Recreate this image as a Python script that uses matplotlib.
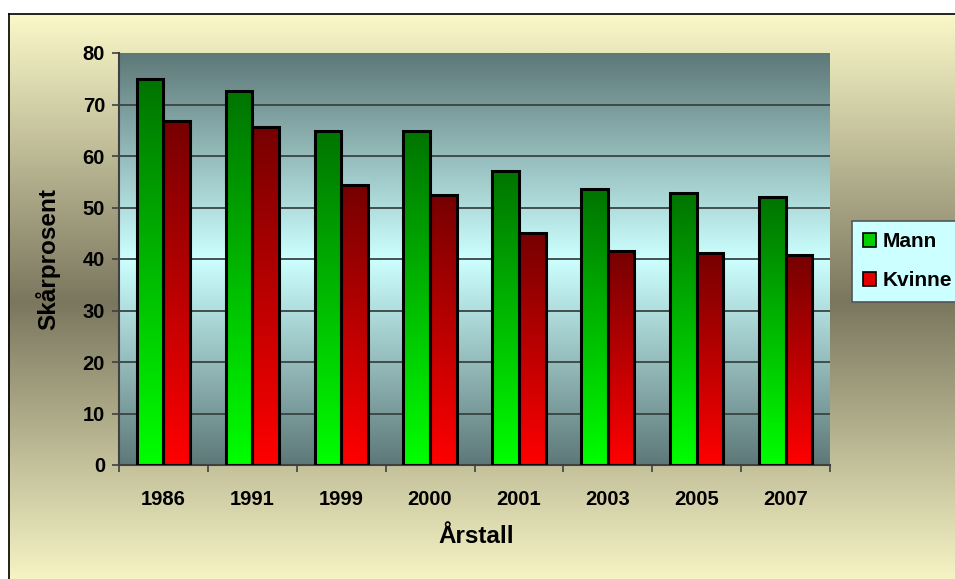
import numpy as np
import matplotlib.pyplot as plt
from matplotlib.colors import LinearSegmentedColormap
from matplotlib.patches import Rectangle

# data
years = ['1986', '1991', '1999', '2000', '2001', '2003', '2005', '2007']
mann = [75.0, 72.6, 64.9, 64.9, 57.1, 53.5, 52.8, 52.0]
kvinne = [66.8, 65.7, 54.3, 52.4, 45.0, 41.5, 41.1, 40.7]

plt.rcParams['font.family'] = ['Liberation Sans', 'DejaVu Sans']
plt.rcParams['font.weight'] = 'bold'

W, H = 955, 579
fig = plt.figure(figsize=(W / 100, H / 100), dpi=100)
fig.patch.set_facecolor('white')

# chart area background (vertical gradient, dark in the middle)
bg = fig.add_axes([0, 0, 1, 1], zorder=-1)
bg.axis('off')
bg_cmap = LinearSegmentedColormap.from_list('bg', ['#7b775f', '#fbf9c9'])
vgrad = np.abs(np.linspace(-1, 1, 256))[:, None]
bg.imshow(vgrad, cmap=bg_cmap, extent=(8, W + 5, H + 12, 13), aspect='auto')
bg.plot([8.5, 8.5], [H + 5, 13.5], color='black', lw=1.2)
bg.plot([8.5, W + 5], [13.5, 13.5], color='black', lw=1.2)
bg.set_xlim(0, W)
bg.set_ylim(H, 0)

# plot area
ax = fig.add_axes([119 / W, 1 - 465 / H, 711 / W, 412 / H])
pa_cmap = LinearSegmentedColormap.from_list('pa', ['#ccffff', '#5e7878'])
ax.imshow(vgrad, cmap=pa_cmap, extent=(-0.5, 7.5, 0, 80), aspect='auto', zorder=0)

for v in range(10, 80, 10):
    ax.axhline(v, color='#3a4444', lw=1.3, zorder=1)

x = np.arange(len(years))
w = 0.3
green = LinearSegmentedColormap.from_list('g', ['#00ff00', '#007400'])
red = LinearSegmentedColormap.from_list('r', ['#ff0000', '#760000'])
bar_grad = np.linspace(1, 0, 256)[:, None]

b1 = ax.bar(x - w / 2, mann, w, facecolor='none', edgecolor='black', lw=2.2, zorder=3)
b2 = ax.bar(x + w / 2, kvinne, w, facecolor='none', edgecolor='black', lw=2.2, zorder=3)
for bars, cm in [(b1, green), (b2, red)]:
    for p in bars:
        x0, h = p.get_x(), p.get_height()
        ax.imshow(bar_grad, cmap=cm, extent=(x0, x0 + p.get_width(), 0, h),
                  aspect='auto', zorder=2)

ax.set_xlim(-0.5, 7.5)
ax.set_ylim(0, 80)

ax.set_xticks(np.arange(-0.5, 8, 1))
ax.set_xticklabels([])
ax.set_xticks(x, minor=True)
ax.set_xticklabels(years, minor=True, fontsize=14.5, fontweight='bold')
ax.tick_params(axis='x', which='major', length=5, color='#404040', width=1.2)
ax.tick_params(axis='x', which='minor', length=0, pad=18)
ax.set_yticks(range(0, 81, 10))
ax.tick_params(axis='y', length=5, color='#404040', width=1.2, pad=5, labelsize=14.5)
for lab in ax.get_yticklabels():
    lab.set_fontweight('bold')

for s in ['top', 'right']:
    ax.spines[s].set_visible(False)
for s in ['left', 'bottom']:
    ax.spines[s].set_color('#404040')
    ax.spines[s].set_linewidth(1.5)

ax.set_ylabel('Skårprosent', fontsize=17.5, fontweight='bold')
ax.yaxis.set_label_coords(-0.083, 0.5)
ax.set_xlabel('Årstall', fontsize=17.5, fontweight='bold')
ax.xaxis.set_label_coords(0.502, -0.146)

handles = [Rectangle((0, 0), 1, 1, fc='#00d000', ec='black', lw=1.2),
           Rectangle((0, 0), 1, 1, fc='#e00000', ec='black', lw=1.2)]
leg = fig.legend(handles, ['Mann', 'Kvinne'], loc='upper left',
                 bbox_to_anchor=(852 / W, 1 - 221 / H), bbox_transform=fig.transFigure,
                 prop={'weight': 'bold', 'size': 15}, frameon=True, fancybox=False,
                 handlelength=0.62, handleheight=0.62, handletextpad=0.3,
                 labelspacing=0.95, borderpad=0.55, borderaxespad=0)
leg.get_frame().set_facecolor('#ccffff')
leg.get_frame().set_edgecolor('#555555')
leg.get_frame().set_linewidth(1.2)
leg.get_frame().set_alpha(1)

fig.savefig('out.png', dpi=100)
